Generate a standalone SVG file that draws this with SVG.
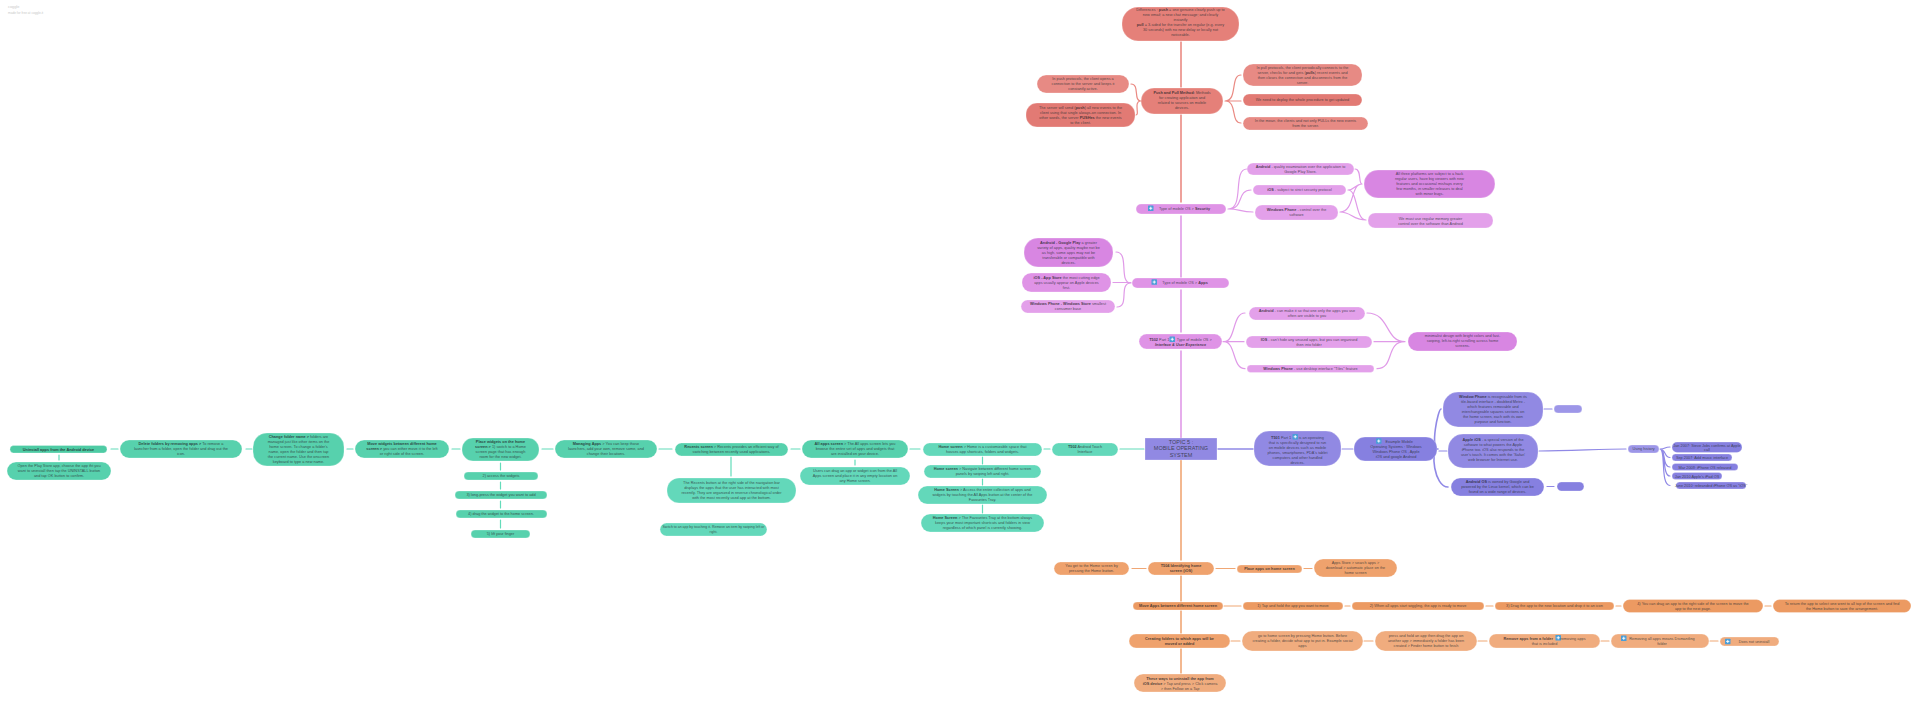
<svg xmlns="http://www.w3.org/2000/svg" width="1920" height="702" viewBox="0 0 1920 702">
<style>
text{font-family:"Liberation Sans",Arial,sans-serif;font-size:3.85px;fill:#2b2f33;fill-opacity:.8;text-anchor:middle}
.b{font-weight:700;fill:#1e2226}
rect{stroke:#fff;stroke-opacity:.45;stroke-width:.6}
.g{fill:#57d1ad}.g2{fill:#63d8ba}.g3{fill:#4ecba4}
.p{fill:#df93e6}.p2{fill:#d886e2}.p3{fill:#e3a0ea}
.r{fill:#e58079}.r2{fill:#e27a74}.r3{fill:#e78a84}
.o{fill:#efa26d}.o2{fill:#ec9a62}.o3{fill:#f0ac7e}
.v{fill:#9189e3}.v2{fill:#8680e0}.v3{fill:#9d96e8}
.c{fill:none;stroke-linecap:round;stroke-width:1.2}
.cg{stroke:#63dcba}.cp{stroke:#e09ae8}.cr{stroke:#ea8a83}.co{stroke:#f0a775}.cv{stroke:#9089e6}
.m{stroke-width:1.6}
.t{fill:#c9c9c9;fill-opacity:1;text-anchor:start}
.ib{fill:#4a9ed8;stroke:none}
</style>
<defs>
<g id="ic"><rect class="ib" width="5.500" height="5.500" rx=".6"/><path d="M1.200 2.750h3.100M2.750 1.200v3.100" stroke="#fff" stroke-width=".9" fill="none"/></g>
</defs>
<text class="t" x="8" y="8">coggle</text>
<text class="t" x="8" y="14" style="font-size:3.2px">made for free at coggle.it</text>
<g id="connectors" class="c">
<path class="cg" d="M111 449H118M246 449H252M347 449H353M452 449H460M542 449H553M659 449H672M791 449H800M910 449H920M1044 449H1050M1120 449H1144"/>
<path class="cg" d="M59 455V460M500.500 463V470M500.500 482V489M500.500 501V508M500.500 520V528M731 457V476M855 460V465M982.500 457V464M982.500 479V485M982.500 505V513"/>
<path class="cv m" d="M1218 449H1253"/>
<path class="cv" d="M1342 449H1353M1439 451H1447M1544 409H1552M1547 486.500H1554M1539 451C1570 451 1600 449 1626 449"/>
<path class="cv m" d="M1438 449C1430 449 1438 409 1441 409M1438 449C1430 449 1434 487 1448 487"/>
<path class="cv" d="M1660 449C1666 449 1664 447 1670 447M1660 449C1666 449 1664 457.500 1670 457.500M1660 449C1666 449 1662 467 1670 467M1660 449C1666 449 1662 476 1670 476M1660 449C1666 449 1660 485.500 1670 485.500"/>
<path class="cp m" d="M1181 216V277M1181 290V332M1181 351V438"/>
<path class="cr m" d="M1181 42V87M1181 115V202"/>
<path class="co m" d="M1181 460V560M1181 576V601M1181 611V633M1181 649V673"/>
<path class="cp" d="M1223 341.700H1233M1245 313C1232 313 1236 341.700 1224 341.700C1236 341.700 1232 368.700 1245 368.700M1224 341.700H1244"/>
<path class="cp" d="M1367 313C1390 313 1385 341.700 1405 341.700M1374 341.700H1405M1377 368.700C1395 368.700 1385 341.700 1405 341.700"/>
<path class="cp" d="M1116 252C1130 252 1118 283 1131 283M1113 282.500H1131M1117 307C1130 307 1118 283 1131 283"/>
<path class="cp" d="M1228 209C1245 209 1232 169 1247 169M1228 209C1245 209 1236 190 1251 190M1228 209C1240 209 1240 212 1253 212"/>
<path class="cp" d="M1355 169C1362 169 1358 184 1362 184M1348 190C1355 190 1355 184 1362 184M1340 212C1355 212 1350 184 1362 184M1348 190C1358 190 1355 220 1366 220M1340 212C1352 212 1352 220 1366 220"/>
<path class="cr" d="M1141 101C1133 101 1140 84 1131 84M1141 101C1133 101 1140 115 1136 115M1225 101C1238 101 1230 75 1241 75M1225 101H1241M1225 101C1238 101 1230 123 1241 123"/>
<path class="co" d="M1132 568.500H1146M1216 568.500H1235M1304 568.500H1312"/>
<path class="co" d="M1224 606H1241M1345 606H1350M1486 606H1493M1616 606H1621M1765 606H1771M1231 641H1240M1364 641H1373M1478 641H1487M1601 641H1609M1710 641H1718"/>
</g>

<g id="n1"><rect class="g3" x="10" y="445.500" width="97" height="7.500" rx="3.700"/><text x="58.500" y="450.700" class="b">Uninstall apps from the Android device</text></g>
<g id="n2"><rect class="g" x="7" y="462" width="104" height="18" rx="9"/><text y="467.400"><tspan x="59">Open the Play Store app, choose the app tht you</tspan><tspan x="59" dy="5">want to uninstall then tap the UNINSTALL button</tspan><tspan x="59" dy="5">and tap OK button to confirm.</tspan></text></g>
<g id="n3"><rect class="g" x="120" y="440" width="122" height="18" rx="9"/><text y="445.400"><tspan x="181"><tspan class="b">Delete folders by removing apps &gt;</tspan> To remove a</tspan><tspan x="181" dy="5">launcher from a folder, open the folder and drag out the</tspan><tspan x="181" dy="5">icon.</tspan></text></g>
<g id="n4"><rect class="g" x="253" y="433" width="91" height="33" rx="14"/><text y="438.400"><tspan x="298.500"><tspan class="b">Change folder name &gt;</tspan> folders are</tspan><tspan x="298.500" dy="5">managed just like other items on the</tspan><tspan x="298.500" dy="5">home screen. To change a folder's</tspan><tspan x="298.500" dy="5">name, open the folder and then tap</tspan><tspan x="298.500" dy="5">the current name. Use the onscreen</tspan><tspan x="298.500" dy="5">keyboard to type a new name.</tspan></text></g>
<g id="n5"><rect class="g" x="355" y="440" width="94" height="18" rx="9"/><text y="445.400"><tspan x="402" class="b">Move widgets between different home</tspan><tspan x="402" dy="5"><tspan class="b">screen &gt;</tspan> you can either move it to the left</tspan><tspan x="402" dy="5">or right side of the screen.</tspan></text></g>
<g id="n6"><rect class="g" x="462" y="438" width="77" height="23" rx="11"/><text y="443.400"><tspan x="500.500" class="b">Place widgets on the home</tspan><tspan x="500.500" dy="5"><tspan class="b">screen &gt;</tspan> 1) switch to a Home</tspan><tspan x="500.500" dy="5">screen page that has enough</tspan><tspan x="500.500" dy="5">room for the new widget.</tspan></text></g>
<g id="n7"><rect class="g" x="464" y="472" width="74" height="8" rx="4"/><text x="501" y="477.400">2) access the widgets</text></g>
<g id="n8"><rect class="g" x="455" y="491" width="92" height="8" rx="4"/><text x="501" y="496.400">3) long-press the widget you want to add</text></g>
<g id="n9"><rect class="g" x="456" y="510" width="91" height="8" rx="4"/><text x="501" y="515.400">4) drag the widget to the home screen.</text></g>
<g id="n10"><rect class="g" x="471" y="530" width="59" height="8" rx="4"/><text x="500.500" y="535.400">5) lift your finger</text></g>
<g id="n11"><rect class="g" x="555" y="440" width="102" height="18" rx="9"/><text y="445.400"><tspan x="606"><tspan class="b">Managing Apps</tspan> &gt; You can keep those</tspan><tspan x="606" dy="5">launchers, add your own, remove some, and</tspan><tspan x="606" dy="5">change their locations.</tspan></text></g>
<g id="n12"><rect class="g" x="675" y="443" width="113" height="13" rx="6.500"/><text y="448.400"><tspan x="731.500"><tspan class="b">Recents screen</tspan> &gt; Recents provides an efficient way of</tspan><tspan x="731.500" dy="5">switching between recently used applications.</tspan></text></g>
<g id="n13"><rect class="g2" x="667" y="478" width="129" height="25" rx="12"/><text y="484.400"><tspan x="731.500">The Recents button at the right side of the navigation bar</tspan><tspan x="731.500" dy="5">displays the apps that the user has interacted with most</tspan><tspan x="731.500" dy="5">recently. They are organized in reverse chronological order</tspan><tspan x="731.500" dy="5">with the most recently used app at the bottom.</tspan></text></g>
<g id="n14"><rect class="g2" x="660" y="523" width="107" height="13" rx="6.500"/><text y="528.400" style="font-size:3.500px"><tspan x="713.500">Switch to an app by touching it. Remove an item by swiping left or</tspan><tspan x="713.500" dy="5">right.</tspan></text></g>
<g id="n15"><rect class="g" x="802" y="440" width="106" height="18" rx="9"/><text y="445.400"><tspan x="855"><tspan class="b">All apps screen</tspan> &gt; The All apps screen lets you</tspan><tspan x="855" dy="5">browse the entire set of apps and widgets that</tspan><tspan x="855" dy="5">are installed on your device.</tspan></text></g>
<g id="n16"><rect class="g2" x="800" y="467" width="110" height="18" rx="9"/><text y="472.400"><tspan x="855">Users can drag an app or widget icon from the All</tspan><tspan x="855" dy="5">Apps screen and place it in any empty location on</tspan><tspan x="855" dy="5">any Home screen.</tspan></text></g>
<g id="n17"><rect class="g2" x="923" y="443" width="119" height="13" rx="6.500"/><text y="448.400"><tspan x="982.500"><tspan class="b">Home screen</tspan> &gt; Home is a customizable space that</tspan><tspan x="982.500" dy="5">houses app shortcuts, folders and widgets.</tspan></text></g>
<g id="n18"><rect class="g2" x="924" y="465" width="117" height="13" rx="6.500"/><text y="470.400"><tspan x="982.500"><tspan class="b">Home screen</tspan> &gt; Navigate between different home screen</tspan><tspan x="982.500" dy="5">panels by swiping left and right.</tspan></text></g>
<g id="n19"><rect class="g2" x="918" y="486" width="129" height="18" rx="9"/><text y="491.400"><tspan x="982.500"><tspan class="b">Home Screen</tspan> &gt; Access the entire collection of apps and</tspan><tspan x="982.500" dy="5">widgets by touching the All Apps button at the center of the</tspan><tspan x="982.500" dy="5">Favourites Tray.</tspan></text></g>
<g id="n20"><rect class="g2" x="921" y="514" width="123" height="18" rx="9"/><text y="519.400"><tspan x="982.500"><tspan class="b">Home Screen</tspan> &gt; The Favourites Tray at the bottom always</tspan><tspan x="982.500" dy="5">keeps your most important shortcuts and folders in view</tspan><tspan x="982.500" dy="5">regardless of which panel is currently showing.</tspan></text></g>
<g id="n21"><rect class="g2" x="1052" y="443" width="66" height="13" rx="6.500"/><text y="448.400"><tspan x="1085"><tspan class="b">T502</tspan> Android Touch</tspan><tspan x="1085" dy="5">Interface</tspan></text></g>

<g id="root"><rect class="v" x="1145" y="438" width="72" height="22"/><text style="font-size:5.500px" y="443.500"><tspan x="1181">TOPIC 5 :</tspan><tspan x="1181" dy="6.500">MOBILE OPERATING</tspan><tspan x="1181" dy="6.500">SYSTEM</tspan></text></g>

<g id="t501"><rect class="v" x="1254" y="431" width="87" height="35" rx="15"/><use href="#ic" x="1292.500" y="434"/><text y="438.500"><tspan x="1297.500"><tspan class="b">T501</tspan> Part 1&#160;&#160;&#160;&#160;&#160;&#160;&#160;is an operating</tspan><tspan x="1297.500" dy="5">that is specifically designed to run</tspan><tspan x="1297.500" dy="5">on mobile devices such as mobile</tspan><tspan x="1297.500" dy="5">phones, smartphones, PDA's tablet</tspan><tspan x="1297.500" dy="5">computers and other handled</tspan><tspan x="1297.500" dy="5">devices.</tspan></text></g>
<g id="ex"><rect class="v2" x="1354" y="437" width="83" height="24" rx="11"/><use href="#ic" x="1376" y="438.300"/><text y="443.400"><tspan x="1396">&#160;&#160;&#160;&#160;&#160;&#160;Example Mobile</tspan><tspan x="1396" dy="5">Operating Systems : Windows</tspan><tspan x="1396" dy="5">Windows Phone OS , Apple</tspan><tspan x="1396" dy="5">iOS and google Android</tspan></text></g>
<g id="wp"><rect class="v" x="1443" y="392" width="100" height="35" rx="15"/><text y="398"><tspan x="1493"><tspan class="b">Window Phone</tspan> is recognisable from its</tspan><tspan x="1493" dy="5">tile-based interface - doubbed Metro -</tspan><tspan x="1493" dy="5">which features removable and</tspan><tspan x="1493" dy="5">interchangeable squares sections on</tspan><tspan x="1493" dy="5">the home screen, each with its own</tspan><tspan x="1493" dy="5">purpose and function.</tspan></text></g>
<g id="wpe"><rect class="v3" x="1554" y="405" width="28" height="8" rx="4"/></g>
<g id="ios"><rect class="v" x="1448" y="434" width="90" height="34" rx="15"/><text y="441.400"><tspan x="1493"><tspan class="b">Apple iOS</tspan> - a special version of the</tspan><tspan x="1493" dy="5">software to what powers the Apple</tspan><tspan x="1493" dy="5">iPhone too. iOS also responds to the</tspan><tspan x="1493" dy="5">user's touch. It comes with the 'Safari'</tspan><tspan x="1493" dy="5">web browser for Internet use.</tspan></text></g>
<g id="aos"><rect class="v2" x="1451" y="478" width="93" height="18" rx="9"/><text y="483"><tspan x="1497.500"><tspan class="b">Android OS</tspan> is owned by Google and</tspan><tspan x="1497.500" dy="5">powered by the Linux kernel, which can be</tspan><tspan x="1497.500" dy="5">found on a wide range of devices.</tspan></text></g>
<g id="aose"><rect class="v2" x="1557" y="482" width="27" height="9" rx="4.500"/></g>
<g id="hist"><rect class="v3" x="1628" y="445" width="31" height="8" rx="4"/><text x="1643.500" y="450.400">Using history</text></g>
<g id="h1"><rect class="v2" x="1672" y="442" width="70" height="10.500" rx="5"/><text y="446.500"><tspan x="1707">Jan 2007: Steve Jobs confirms at Apple</tspan><tspan x="1707" dy="4.500">call</tspan></text></g>
<g id="h2"><rect class="v2" x="1672" y="454" width="60" height="7" rx="3.500"/><text x="1702" y="459">Sep 2007: Add music interface</text></g>
<g id="h3"><rect class="v2" x="1672" y="463.500" width="66" height="7" rx="3.500"/><text x="1705" y="468.500">Mar 2008: iPhone OS released</text></g>
<g id="h4"><rect class="v2" x="1672" y="472.500" width="50" height="7" rx="3.500"/><text x="1697" y="477.500">Jan 2010 Apple's iPad OS</text></g>
<g id="h5"><rect class="v2" x="1676" y="482" width="70" height="7" rx="3.500"/><text x="1711" y="487">June 2010: rebranded iPhone OS as "iOS"</text></g>

<g id="p1"><rect class="p" x="1139" y="334" width="83" height="15" rx="7.500"/><use href="#ic" x="1169.500" y="336.500"/><text y="340.700"><tspan x="1180.500"><tspan class="b">T502</tspan> Part 1&#160;&#160;&#160;&#160;&#160;&#160;&#160;Type of mobile OS &gt;</tspan><tspan x="1180.500" dy="5" class="b" font-style="italic">Interface &amp; User Experience</tspan></text></g>
<g id="p2"><rect class="p3" x="1249" y="307" width="116" height="13" rx="6.500"/><text y="312.400"><tspan x="1307"><tspan class="b">Android</tspan> - can make it so that one only the apps you use</tspan><tspan x="1307" dy="5">often are visible to you</tspan></text></g>
<g id="p3"><rect class="p3" x="1246" y="336" width="126" height="12" rx="6"/><text y="341"><tspan x="1309"><tspan class="b">IOS</tspan> - can't hide any unused apps, but you can organised</tspan><tspan x="1309" dy="5">then into folder</tspan></text></g>
<g id="p4"><rect class="p3" x="1247" y="365" width="127" height="7.500" rx="3.700"/><text x="1310.500" y="370.100"><tspan class="b">Windows Phone</tspan> - use desktop interface "Tiles" feature</text></g>
<g id="p5"><rect class="p2" x="1408" y="332" width="109" height="19" rx="9"/><text y="337"><tspan x="1462.500">minimalist design with bright colors and fast-</tspan><tspan x="1462.500" dy="5">swiping, left-to-right scrolling across home</tspan><tspan x="1462.500" dy="5">screens.</tspan></text></g>
<g id="a0"><rect class="p" x="1132" y="278" width="97" height="10" rx="5"/><use href="#ic" x="1151.500" y="279.300"/><text x="1185" y="284.400">Type of mobile OS &gt; <tspan class="b">Apps</tspan></text></g>
<g id="a1"><rect class="p2" x="1024" y="238" width="89" height="29" rx="14"/><text y="243.500"><tspan x="1068.500"><tspan class="b">Android - Google Play</tspan> a greater</tspan><tspan x="1068.500" dy="5">variety of apps, quality maybe not be</tspan><tspan x="1068.500" dy="5">as high, some apps may not be</tspan><tspan x="1068.500" dy="5">transferable or compatible with</tspan><tspan x="1068.500" dy="5">devices.</tspan></text></g>
<g id="a2"><rect class="p" x="1022" y="273" width="89" height="19" rx="9"/><text y="278.500"><tspan x="1066.500"><tspan class="b">iOS - App Store</tspan> the most cutting edge</tspan><tspan x="1066.500" dy="5">apps usually appear on Apple devices</tspan><tspan x="1066.500" dy="5">first.</tspan></text></g>
<g id="a3"><rect class="p3" x="1021" y="300" width="94" height="13" rx="6.500"/><text y="305.400"><tspan x="1068"><tspan class="b">Windows Phone - Windows Store</tspan> smallest</tspan><tspan x="1068" dy="5">consumer base</tspan></text></g>
<g id="s0"><rect class="p" x="1136" y="204" width="90" height="10" rx="5"/><use href="#ic" x="1148" y="205.500"/><text x="1184.500" y="210.400">Type of mobile OS &gt; <tspan class="b">Security</tspan></text></g>
<g id="s1"><rect class="p3" x="1247" y="163" width="107" height="12" rx="6"/><text y="168"><tspan x="1300.500"><tspan class="b">Android</tspan> - quality examination over the application to</tspan><tspan x="1300.500" dy="5">Google Play Store.</tspan></text></g>
<g id="s2"><rect class="p3" x="1253" y="185" width="93" height="10" rx="5"/><text x="1299.500" y="191.400"><tspan class="b">iOS</tspan> - subject to strict security protocol</text></g>
<g id="s3"><rect class="p3" x="1255" y="205" width="83" height="15" rx="7"/><text y="211"><tspan x="1296.500"><tspan class="b">Windows Phone</tspan> - control over the</tspan><tspan x="1296.500" dy="5">software</tspan></text></g>
<g id="s4"><rect class="p2" x="1364" y="170" width="131" height="28" rx="14"/><text y="175"><tspan x="1429.500">All three platforms are subject to a hack</tspan><tspan x="1429.500" dy="5">regular users, have big viewers with new</tspan><tspan x="1429.500" dy="5">features and occasional mishaps every</tspan><tspan x="1429.500" dy="5">few months, in smaller releases to deal</tspan><tspan x="1429.500" dy="5">with minor bugs.</tspan></text></g>
<g id="s5"><rect class="p3" x="1368" y="213" width="125" height="15" rx="7"/><text y="219.500"><tspan x="1430.500">We must use regular memory greater</tspan><tspan x="1430.500" dy="5">control over the software than Android</tspan></text></g>

<g id="r0"><rect class="r" x="1122" y="7" width="117" height="34" rx="16"/><text y="11"><tspan x="1180.500">Differences : <tspan class="b">push</tspan> = one genuine clearly push up to</tspan><tspan x="1180.500" dy="5">new email; a new chat message; and clearly</tspan><tspan x="1180.500" dy="5">instantly</tspan><tspan x="1180.500" dy="5"><tspan class="b">pull</tspan> = 3-sided for the transfer on regular (e.g. every</tspan><tspan x="1180.500" dy="5">30 seconds) with no new delay or locally not</tspan><tspan x="1180.500" dy="5">noticeable.</tspan></text></g>
<g id="r1"><rect class="r" x="1141" y="88" width="82" height="26" rx="13"/><text y="93.500"><tspan x="1182"><tspan class="b">Push and Pull Method:</tspan> Methods</tspan><tspan x="1182" dy="5">for creating application and</tspan><tspan x="1182" dy="5">related to sources on mobile</tspan><tspan x="1182" dy="5">devices.</tspan></text></g>
<g id="r2"><rect class="r3" x="1037" y="75" width="92" height="18" rx="9"/><text y="80"><tspan x="1083">In push protocols, the client opens a</tspan><tspan x="1083" dy="5">connection to the server and keeps it</tspan><tspan x="1083" dy="5">constantly active.</tspan></text></g>
<g id="r3"><rect class="r2" x="1026" y="103" width="109" height="24" rx="11"/><text y="109"><tspan x="1080.500">The server will send (<tspan class="b">push</tspan>) all new events to the</tspan><tspan x="1080.500" dy="5">client using that single always-on connection. In</tspan><tspan x="1080.500" dy="5">other words, the server <tspan class="b">PUSHes</tspan> the new events</tspan><tspan x="1080.500" dy="5">to the client.</tspan></text></g>
<g id="r4"><rect class="r3" x="1243" y="64" width="119" height="22" rx="10"/><text y="69"><tspan x="1302.500">In pull protocols, the client periodically connects to the</tspan><tspan x="1302.500" dy="5">server, checks for and gets (<tspan class="b">pulls</tspan>) recent events and</tspan><tspan x="1302.500" dy="5">then closes the connection and disconnects from the</tspan><tspan x="1302.500" dy="5">server.</tspan></text></g>
<g id="r5"><rect class="r2" x="1243" y="94" width="119" height="12" rx="6"/><text x="1302.500" y="101.400">We need to deploy the whole procedure to get updated</text></g>
<g id="r6"><rect class="r3" x="1243" y="117" width="125" height="13" rx="6.500"/><text y="122.400"><tspan x="1305.500">In the mean, the clients and not only PULLs the new events</tspan><tspan x="1305.500" dy="5">from the server.</tspan></text></g>

<g id="o0"><rect class="o" x="1148" y="562" width="66" height="13" rx="6.500"/><text y="567.400" class="b"><tspan x="1181">T504 Identifying home</tspan><tspan x="1181" dy="5">screen (iOS)</tspan></text></g>
<g id="o1"><rect class="o" x="1054" y="562" width="75" height="13" rx="6.500"/><text y="567.400"><tspan x="1091.500">You get to the Home screen by</tspan><tspan x="1091.500" dy="5">pressing the Home button.</tspan></text></g>
<g id="o2"><rect class="o" x="1237" y="565" width="65" height="8" rx="4"/><text x="1269.500" y="570.400" class="b">Place apps on home screen</text></g>
<g id="o3"><rect class="o" x="1314" y="559" width="83" height="18" rx="9"/><text y="564.400"><tspan x="1355.500">Apps Store &gt; search apps &gt;</tspan><tspan x="1355.500" dy="5">download &gt; automatic place on the</tspan><tspan x="1355.500" dy="5">home screen</tspan></text></g>
<g id="o4"><rect class="o2" x="1133" y="602" width="90" height="8" rx="4"/><text x="1178" y="607.400" class="b">Move Apps between different home screen</text></g>
<g id="o5"><rect class="o2" x="1243" y="602" width="100" height="8" rx="4"/><text x="1293" y="607.400">1) Tap and hold the app you want to move</text></g>
<g id="o6"><rect class="o2" x="1352" y="602" width="132" height="8" rx="4"/><text x="1418" y="607.400">2) When all apps start wiggling, the app is ready to move</text></g>
<g id="o7"><rect class="o2" x="1495" y="602" width="119" height="8" rx="4"/><text x="1554.500" y="607.400">3) Drag the app to the new location and drop it to an icon</text></g>
<g id="o8"><rect class="o2" x="1623" y="599.500" width="140" height="13" rx="6.500"/><text y="604.900"><tspan x="1693">4) You can drag an app to the right side of the screen to move the</tspan><tspan x="1693" dy="5">app to the next page.</tspan></text></g>
<g id="o9"><rect class="o2" x="1773" y="599.500" width="138" height="13" rx="6.500"/><text y="604.900"><tspan x="1842">To return the app to select one went to all top of the screen and find</tspan><tspan x="1842" dy="5">the Home button to save the arrangement.</tspan></text></g>
<g id="o10"><rect class="o" x="1129" y="634" width="101" height="14" rx="7"/><text y="639.900" class="b"><tspan x="1179.500">Creating folders to which apps will be</tspan><tspan x="1179.500" dy="5">moved or added</tspan></text></g>
<g id="o11"><rect class="o3" x="1242" y="631" width="121" height="20" rx="10"/><text y="637"><tspan x="1302.500">go to home screen by pressing Home button. Before</tspan><tspan x="1302.500" dy="5">creating a folder, decide what app to put in. Example social</tspan><tspan x="1302.500" dy="5">apps</tspan></text></g>
<g id="o12"><rect class="o3" x="1375" y="631" width="102" height="20" rx="10"/><text y="637"><tspan x="1426">press and hold an app then drag the app on</tspan><tspan x="1426" dy="5">another app &gt; immediately a folder has been</tspan><tspan x="1426" dy="5">created &gt; Finder home button to finish</tspan></text></g>
<g id="o13"><rect class="o3" x="1489" y="634" width="111" height="14" rx="7"/><use href="#ic" x="1555.500" y="635"/><text y="640"><tspan x="1544.500"><tspan class="b">Remove apps from a folder</tspan>&#160;&#160;&#160;&#160;&#160;&#160;&#160;removing apps</tspan><tspan x="1544.500" dy="5">that is included</tspan></text></g>
<g id="o14"><rect class="o3" x="1611" y="634" width="98" height="14" rx="7"/><use href="#ic" x="1621" y="635.500"/><text y="640"><tspan x="1662">Removing all apps means Dismantling</tspan><tspan x="1662" dy="5">folder</tspan></text></g>
<g id="o15"><rect class="o3" x="1720" y="637" width="59" height="9" rx="4.500"/><use href="#ic" x="1725" y="638.700"/><text x="1754" y="643">Does not uninstall</text></g>
<g id="o16"><rect class="o3" x="1134" y="674" width="92" height="18" rx="9"/><text y="679.500"><tspan x="1180" class="b">These ways to uninstall the app from</tspan><tspan x="1180" dy="5"><tspan class="b">iOS device</tspan> &gt; Tap and press &gt; Click camera</tspan><tspan x="1180" dy="5">&gt; then Follow on a Tap</tspan></text></g>
</svg>
